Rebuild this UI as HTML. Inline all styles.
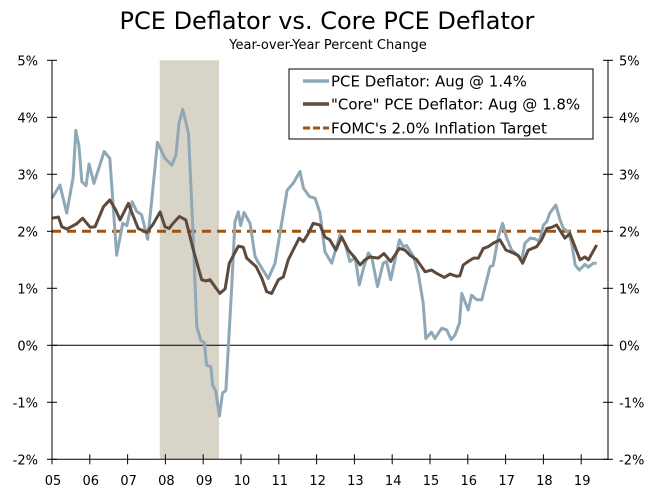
<!DOCTYPE html>
<html><head><meta charset="utf-8"><style>
html,body{margin:0;padding:0;background:#fff;}
svg{display:block;font-family:"DejaVu Sans","Liberation Sans",sans-serif;}
</style></head><body>
<svg id="chart" width="662" height="490" viewBox="0 0 662 490" xmlns="http://www.w3.org/2000/svg">
<text x="327" y="29" text-anchor="middle" font-size="24" fill="#000">PCE Deflator vs. Core PCE Deflator</text>
<text x="328" y="49" text-anchor="middle" font-size="13" fill="#000">Year-over-Year Percent Change</text>
<g id="plot"></g>
<g>
<rect x="289" y="69" width="304" height="70" fill="#fff" stroke="#000" stroke-width="1"/>
<line x1="303" y1="81" x2="329" y2="81" stroke="#8fa8b8" stroke-width="3.5"/>
<text x="331" y="86.5" font-size="15">PCE Deflator: Aug @ 1.4%</text>
<line x1="303" y1="104" x2="329" y2="104" stroke="#5e4a3c" stroke-width="3.5"/>
<text x="331" y="109.5" font-size="15">"Core" PCE Deflator: Aug @ 1.8%</text>
<line x1="303" y1="128" x2="329" y2="128" stroke="#a0520f" stroke-width="3" stroke-dasharray="7,3"/>
<text x="331" y="133.5" font-size="15">FOMC's 2.0% Inflation Target</text>
</g>
</svg>
<script>
const yearLabels=["05","06","07","08","09","10","11","12","13","14","15","16","17","18","19"];
const yTicks=[-2,-1,0,1,2,3,4,5];
const recession=[2.85,4.42];
const target=2.0;
const pceT=[0,0.21,0.39,0.56,0.63,0.71,0.79,0.90,0.98,1.11,1.38,1.53,1.71,1.87,1.98,2.12,2.24,2.37,2.53,2.64,2.79,2.99,3.17,3.28,3.36,3.46,3.61,3.72,3.83,3.94,4.03,4.09,4.20,4.25,4.33,4.43,4.51,4.60,4.75,4.84,4.93,4.99,5.08,5.24,5.37,5.46,5.50,5.72,5.90,6.22,6.38,6.56,6.65,6.81,6.96,7.09,7.22,7.40,7.62,7.75,7.88,8.02,8.13,8.24,8.37,8.46,8.61,8.76,8.85,8.96,9.19,9.29,9.38,9.56,9.69,9.82,9.89,10.04,10.13,10.31,10.44,10.56,10.66,10.78,10.84,11.01,11.10,11.23,11.37,11.59,11.67,11.81,11.92,12.03,12.16,12.29,12.43,12.51,12.65,12.78,12.89,13.00,13.09,13.17,13.33,13.44,13.53,13.66,13.75,13.84,13.95,14.10,14.19,14.32,14.41];
const pceV=[2.58,2.81,2.32,2.95,3.77,3.51,2.87,2.80,3.18,2.84,3.40,3.28,1.58,2.14,2.10,2.52,2.35,2.29,1.86,2.55,3.56,3.28,3.16,3.34,3.90,4.14,3.72,2.14,0.33,0.08,0.05,-0.35,-0.37,-0.70,-0.80,-1.24,-0.84,-0.79,0.97,2.17,2.34,2.10,2.33,2.14,1.56,1.45,1.41,1.17,1.44,2.72,2.84,3.05,2.76,2.61,2.58,2.32,1.64,1.44,1.94,1.79,1.47,1.54,1.06,1.35,1.62,1.54,1.03,1.44,1.47,1.15,1.85,1.73,1.75,1.56,1.26,0.74,0.12,0.23,0.12,0.30,0.27,0.10,0.18,0.39,0.91,0.62,0.88,0.80,0.80,1.38,1.40,1.91,2.14,1.88,1.67,1.60,1.50,1.79,1.88,1.87,1.82,2.11,2.17,2.32,2.46,2.20,2.05,1.99,1.79,1.41,1.32,1.42,1.37,1.44,1.44];
const coreT=[0,0.17,0.26,0.39,0.65,0.81,1.01,1.14,1.36,1.53,1.69,1.80,2.02,2.13,2.28,2.51,2.68,2.86,2.99,3.10,3.19,3.37,3.54,3.74,3.96,4.07,4.18,4.44,4.58,4.69,4.93,5.06,5.15,5.40,5.55,5.68,5.81,5.99,6.12,6.25,6.38,6.54,6.65,6.78,6.91,7.09,7.22,7.35,7.51,7.66,7.84,8.02,8.15,8.28,8.41,8.63,8.78,8.96,9.19,9.34,9.47,9.65,9.87,10.04,10.18,10.38,10.53,10.71,10.79,10.88,11.01,11.15,11.28,11.41,11.54,11.67,11.85,12.01,12.20,12.34,12.45,12.60,12.82,12.95,13.09,13.22,13.35,13.57,13.70,13.97,14.10,14.19,14.41];
const coreV=[2.23,2.25,2.08,2.04,2.13,2.23,2.07,2.08,2.43,2.55,2.37,2.20,2.49,2.30,2.05,1.98,2.13,2.34,2.08,2.05,2.13,2.26,2.20,1.67,1.15,1.13,1.15,0.91,0.99,1.44,1.74,1.72,1.53,1.38,1.18,0.94,0.91,1.15,1.20,1.50,1.67,1.88,1.82,1.96,2.14,2.11,1.90,1.85,1.67,1.90,1.67,1.53,1.41,1.50,1.55,1.53,1.61,1.47,1.70,1.67,1.58,1.50,1.29,1.32,1.26,1.19,1.25,1.21,1.22,1.41,1.47,1.53,1.53,1.70,1.73,1.79,1.85,1.67,1.62,1.57,1.44,1.67,1.73,1.85,2.05,2.07,2.11,1.88,1.96,1.50,1.55,1.50,1.76];

const NS="http://www.w3.org/2000/svg";
const L=52,R=608,T=60.3,B=459.3;
const X=t=>L+t*37.8;
const Y=v=>T+(5-v)*(B-T)/7;
const g=document.getElementById('plot');
function mk(tag,attrs){const e=document.createElementNS(NS,tag);for(const k in attrs)e.setAttribute(k,attrs[k]);g.appendChild(e);return e;}
let e;
e=mk('rect',{x:X(recession[0]),y:T,width:X(recession[1])-X(recession[0]),height:B-T,fill:'#d8d4c8'});


e=mk('line',{x1:L,y1:Y(0),x2:R,y2:Y(0),stroke:'#000','stroke-width':1});


yTicks.forEach(v=>{
 let t=mk('line',{x1:L-5,y1:Y(v),x2:L+5,y2:Y(v),stroke:'#000'});
 
 
 t=mk('line',{x1:R-5,y1:Y(v),x2:R+5,y2:Y(v),stroke:'#000'});
 
 
 let s=mk('text',{x:38,y:Y(v)+5,'text-anchor':'end','font-size':13});
 s.textContent=v+'%';
 
 
 s=mk('text',{x:619,y:Y(v)+5,'text-anchor':'start','font-size':13});
 s.textContent=v+'%';
 
 
});
yearLabels.forEach((lab,i)=>{
 let t=mk('line',{x1:X(i),y1:B-5,x2:X(i),y2:B+5,stroke:'#000'});
 
 
 let s=mk('text',{x:X(i)+1,y:485,'text-anchor':'middle','font-size':13});
 s.textContent=lab;
 
 
});
e=mk('line',{x1:L,y1:Y(target),x2:R,y2:Y(target),stroke:'#a0520f','stroke-width':3,'stroke-dasharray':'9,6'});


e=mk('polyline',{points:pceT.map((t,i)=>X(t)+','+Y(pceV[i])).join(' '),fill:'none',stroke:'#8fa8b8','stroke-width':3,'stroke-linejoin':'round'});


e=mk('polyline',{points:coreT.map((t,i)=>X(t)+','+Y(coreV[i])).join(' '),fill:'none',stroke:'#5e4a3c','stroke-width':3,'stroke-linejoin':'round'});


e=mk('line',{x1:L,y1:T,x2:L,y2:B,stroke:'#000'});


e=mk('line',{x1:R,y1:T,x2:R,y2:B,stroke:'#000'});


e=mk('line',{x1:L,y1:B,x2:R,y2:B,stroke:'#000'});


</script>
</body></html>
